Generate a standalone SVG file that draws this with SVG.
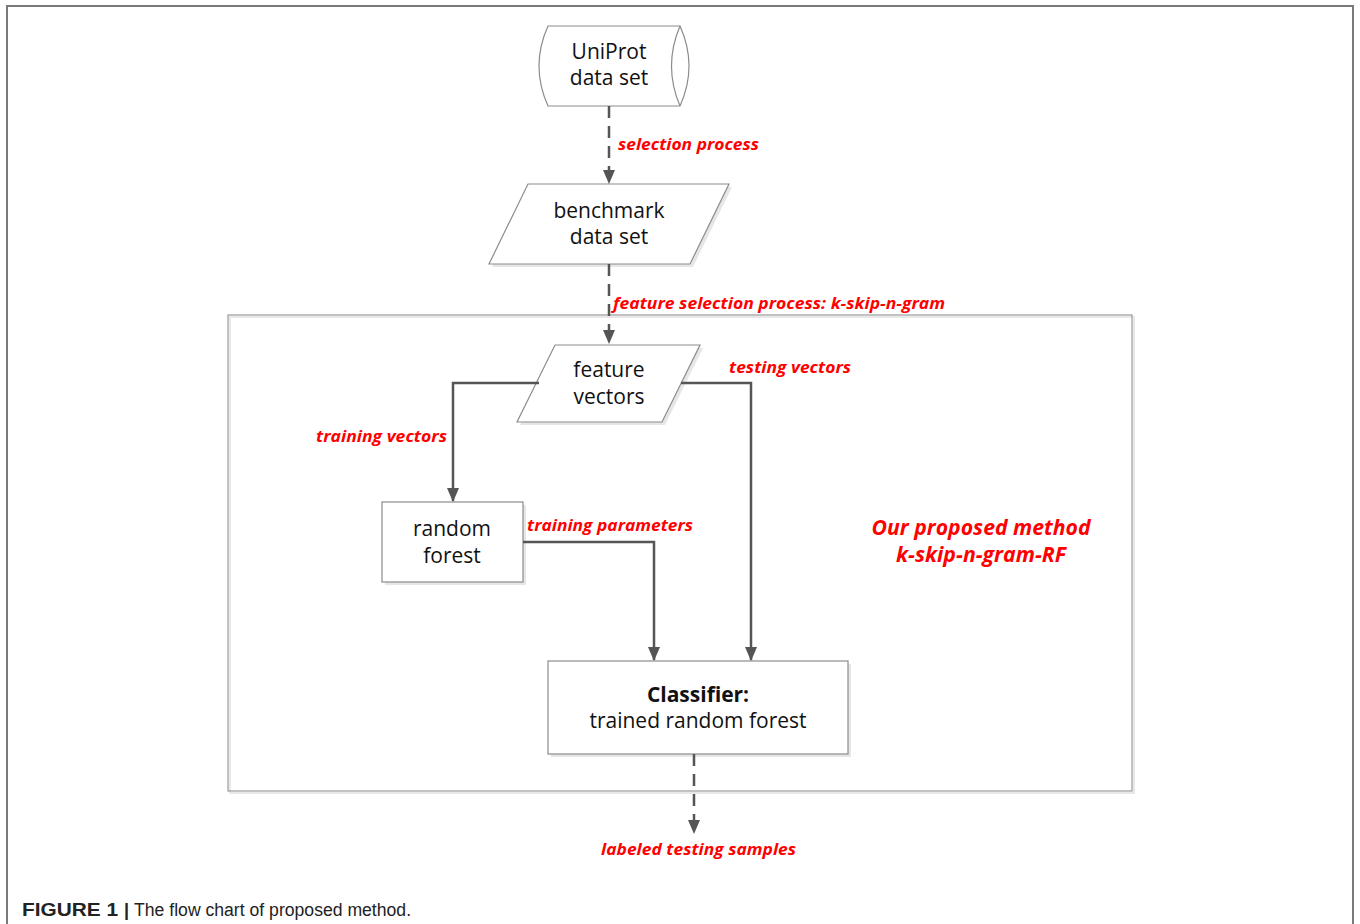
<svg xmlns="http://www.w3.org/2000/svg" width="1360" height="924" viewBox="0 0 1360 924">
<defs>
<marker id="ah" markerWidth="14" markerHeight="14" viewBox="0 0 14 14" refX="13" refY="7" orient="auto" markerUnits="userSpaceOnUse">
<path d="M0,1 L14,7 L0,13 z" fill="#555"/>
</marker>
</defs>
<style>
.node{fill:#fff;stroke:#8c8c8c;stroke-width:1.2}
.shadow{fill:#e6e6e6;stroke:none}
.t{font-family:"Open Sans","Noto Sans",sans-serif;font-size:21px;fill:#111;text-anchor:middle}
.b{font-weight:bold}
.lbl{font-family:"Open Sans","Noto Sans",sans-serif;font-size:16px;font-weight:bold;font-style:italic;fill:#ff0000}
.big{font-family:"Open Sans","Noto Sans",sans-serif;font-size:21px;font-weight:bold;font-style:italic;fill:#ff0000;text-anchor:middle}
.con{fill:none;stroke:#555;stroke-width:2.5}
.dash{stroke-dasharray:12,8}
.cap{font-family:"Liberation Sans",Arial,sans-serif;font-size:18px;fill:#222}
</style>
<rect width="1360" height="924" fill="#fff"/>
<path d="M7,924 L7,6 L1353,6 L1353,924" fill="none" stroke="#7a7a7a" stroke-width="2"/>
<g id="frame">
<rect x="230" y="317" width="904" height="476" fill="none" stroke="#e8e8e8" stroke-width="2"/>
<rect x="228" y="315" width="904" height="476" fill="none" stroke="#999" stroke-width="1.2"/>
<text class="big" x="981" y="535" textLength="219" lengthAdjust="spacingAndGlyphs">Our proposed method</text>
<text class="big" x="981" y="562" textLength="170" lengthAdjust="spacingAndGlyphs">k-skip-n-gram-RF</text>
</g>
<g id="uniprot">
<path class="node" d="M548,26 L680,26 Q698,66 680,106 L548,106 Q530,66 548,26 Z"/>
<path class="node" d="M680,26 Q663,66 680,106" fill="none"/>
<text class="t" x="609" y="59">UniProt</text>
<text class="t" x="609" y="85">data set</text>
</g>
<g id="benchmark">
<polygon class="shadow" points="531,187 732,187 693,267 492,267"/>
<polygon class="node" points="528,184 729,184 690,264 489,264"/>
<text class="t" x="609" y="218">benchmark</text>
<text class="t" x="609" y="244">data set</text>
</g>
<g id="feature">
<polygon class="shadow" points="558,348 703,348 665,425 520,425"/>
<polygon class="node" points="555,345 700,345 662,422 517,422"/>
<text class="t" x="609" y="377">feature</text>
<text class="t" x="609" y="404">vectors</text>
</g>
<g id="randomforest">
<rect class="shadow" x="385" y="505" width="141" height="80"/>
<rect class="node" x="382" y="502" width="141" height="80"/>
<text class="t" x="452" y="536">random</text>
<text class="t" x="452" y="563">forest</text>
</g>
<g id="classifier">
<rect class="shadow" x="551" y="664" width="300" height="93"/>
<rect class="node" x="548" y="661" width="300" height="93"/>
<text class="t b" x="698" y="702">Classifier:</text>
<text class="t" x="698" y="728">trained random forest</text>
</g>
<g id="connectors">
<path class="con dash" d="M609,106 L609,183" marker-end="url(#ah)"/>
<path class="con dash" d="M609,264 L609,343" marker-end="url(#ah)"/>
<path class="con" d="M539,383 L453,383 L453,501" marker-end="url(#ah)"/>
<path class="con" d="M681,383 L751,383 L751,660" marker-end="url(#ah)"/>
<path class="con" d="M523,542 L654,542 L654,660" marker-end="url(#ah)"/>
<path class="con dash" d="M694,754 L694,833" marker-end="url(#ah)"/>
</g>
<g id="labels">
<text class="lbl" x="618" y="150" textLength="141" lengthAdjust="spacingAndGlyphs">selection process</text>
<text class="lbl" x="613" y="309" textLength="332" lengthAdjust="spacingAndGlyphs">feature selection process: k-skip-n-gram</text>
<text class="lbl" x="729" y="373" textLength="122" lengthAdjust="spacingAndGlyphs">testing vectors</text>
<text class="lbl" x="316" y="442" textLength="131" lengthAdjust="spacingAndGlyphs">training vectors</text>
<text class="lbl" x="527" y="531" textLength="166" lengthAdjust="spacingAndGlyphs">training parameters</text>
<text class="lbl" x="601" y="855" textLength="195" lengthAdjust="spacingAndGlyphs">labeled testing samples</text>
</g>
<text class="cap" x="22" y="916"><tspan font-weight="bold" textLength="96" lengthAdjust="spacingAndGlyphs">FIGURE 1</tspan><tspan dx="6" font-weight="bold">|</tspan><tspan dx="5" textLength="277" lengthAdjust="spacingAndGlyphs">The flow chart of proposed method.</tspan></text>
</svg>
